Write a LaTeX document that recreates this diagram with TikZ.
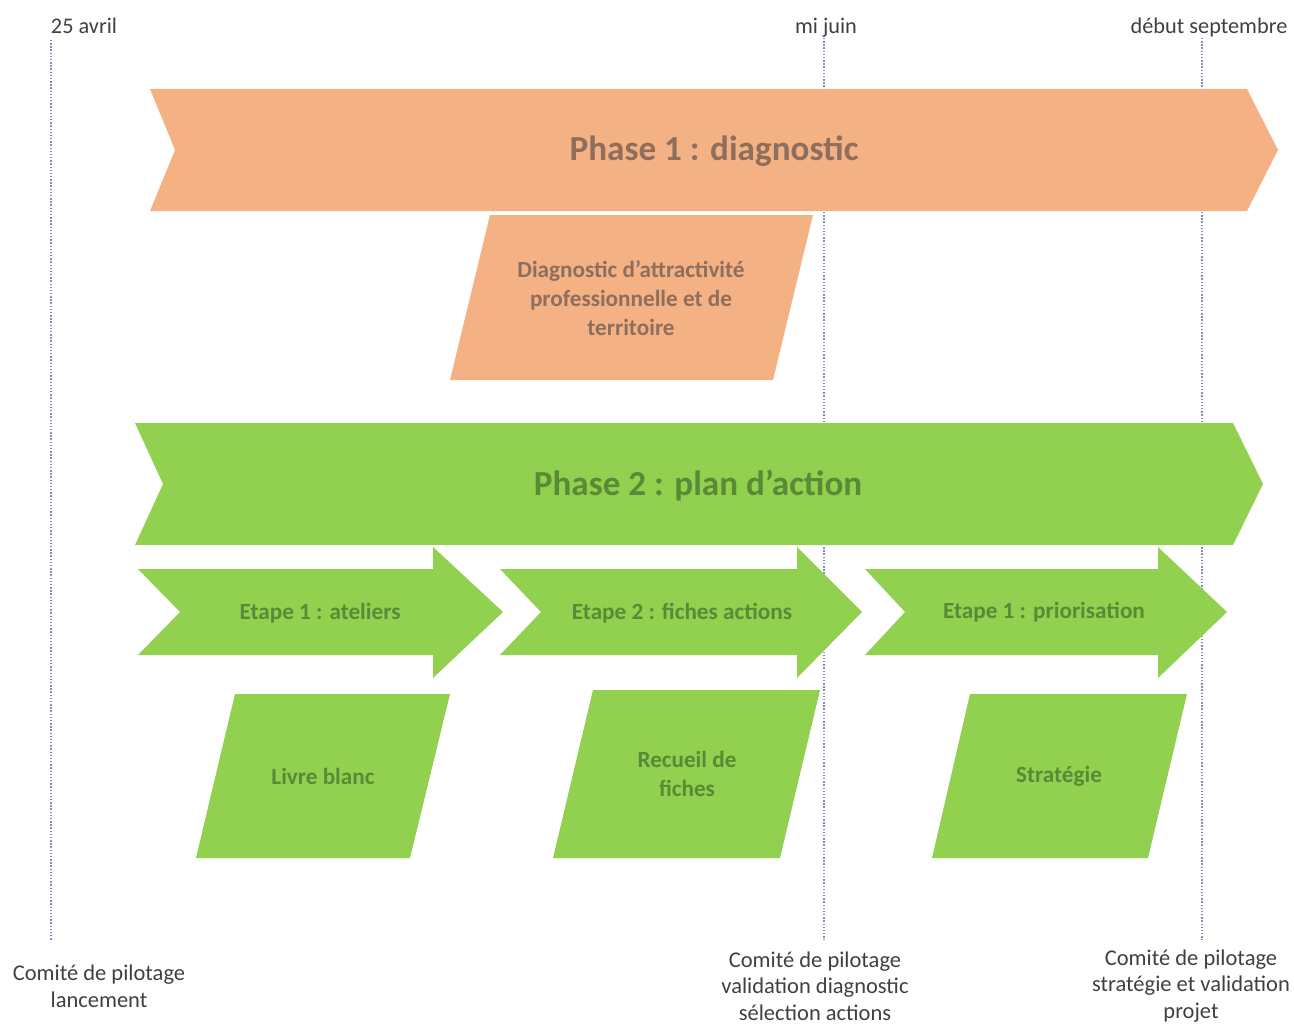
\documentclass[tikz,border=0pt]{standalone}
\usepackage{fontspec}
\setmainfont{Carlito}
\usetikzlibrary{calc,positioning}
\definecolor{phaseorange}{HTML}{F4B183}
\definecolor{phasegreen}{HTML}{92D050}
\definecolor{orangetext}{HTML}{8E6E5C}
\definecolor{greentext}{HTML}{5A8A35}
\definecolor{datetext}{HTML}{404040}
\definecolor{milestone}{HTML}{7F90B8}

\newcommand{\etapearrow}[4]{% left, notch, head start, tip
  \fill[phasegreen] (#1,569) -- (#3,569) -- (#3,547) -- (#4,612) -- (#3,678)
    -- (#3,655) -- (#1,655) -- (#2,612) -- cycle;
}
\newcommand{\livrable}[6]{% top left, top right, bottom left, bottom right, top y, bottom y
  \fill[phasegreen] (#1,#5) -- (#2,#5) -- (#4,#6) -- (#3,#6) -- cycle;
}

\begin{document}
\begin{tikzpicture}[x=0.02cm, y=-0.02cm,
    every node/.style={font=\bfseries\fontsize{13.2}{16.4}\selectfont, align=center, inner sep=0pt},
    date/.style={text=datetext, font=\fontsize{12.7}{15}\selectfont},
    comite/.style={text=datetext, font=\fontsize{12.8}{15.2}\selectfont},
    phasetitle/.style={font=\bfseries\fontsize{20}{24}\selectfont},
    etapetext/.style={text=greentext},
    jalon/.style={milestone, densely dotted, thick}
  ]
  \useasboundingbox (0,0) rectangle (1294,1024);

  % jalons
  \coordinate (j1top) at (51,40);   \coordinate (j1bot) at (51,940);
  \coordinate (j2top) at (824,38);  \coordinate (j2bot) at (824,940);
  \coordinate (j3top) at (1202,38); \coordinate (j3bot) at (1202,940);
  \draw[jalon] (j1top) -- (j1bot);
  \draw[jalon] (j2top) -- (j2bot);
  \draw[jalon] (j3top) -- (j3bot);

  \node[date] (avril) at (84,26) {25 avril};
  \node[date] (juin) at (826,28) {mi juin};
  \node[date] (septembre) at (1209,28) {début septembre};

  % phase 1
  \fill[phaseorange] (150,89) -- (1247,89) -- (1278,150) -- (1247,211)
    -- (150,211) -- (175,150) -- cycle;
  \node[phasetitle, text=orangetext] (phase1) at (714,151) {Phase 1 : diagnostic};

  \fill[phaseorange] (490,215) -- (813,215) -- (773,380) -- (450,380) -- cycle;
  \node[text=orangetext] (diag) at (631,298)
    {Diagnostic d’attractivité\\professionnelle et de\\territoire};

  % phase 2
  \fill[phasegreen] (135,423) -- (1233,423) -- (1263,484) -- (1233,545)
    -- (135,545) -- (163,484) -- cycle;
  \node[phasetitle, text=greentext] (phase2) at (698,485) {Phase 2 : plan d’action};

  % etapes
  \etapearrow{138}{180}{433}{503}
  \etapearrow{500}{541}{797}{862}
  \etapearrow{865}{905}{1158}{1227}
  \node[etapetext] (etape1) at (320,613) {Etape 1 : ateliers};
  \node[etapetext] (etape2) at (682,613) {Etape 2 : fiches actions};
  \node[etapetext] (etape3) at (1044,612) {Etape 1 : priorisation};

  % livrables
  \livrable{235}{450}{196}{410}{694}{858}
  \livrable{593}{820}{553}{780}{690}{858}
  \livrable{970}{1187}{932}{1148}{694}{858}
  \node[etapetext] (livre) at (323,776) {Livre blanc};
  \node[etapetext] (recueil) at (687,774) {Recueil de\\fiches};
  \node[etapetext] (strategie) at (1059,776) {Stratégie};

  % comites
  \node[comite] (comite1) at (99,986) {Comité de pilotage\\lancement};
  \node[comite] (comite2) at (815,986)
    {Comité de pilotage\\validation diagnostic\\sélection actions};
  \node[comite] (comite3) at (1191,986)
    {Comité de pilotage\\stratégie et validation\\projet};
\end{tikzpicture}
\end{document}
